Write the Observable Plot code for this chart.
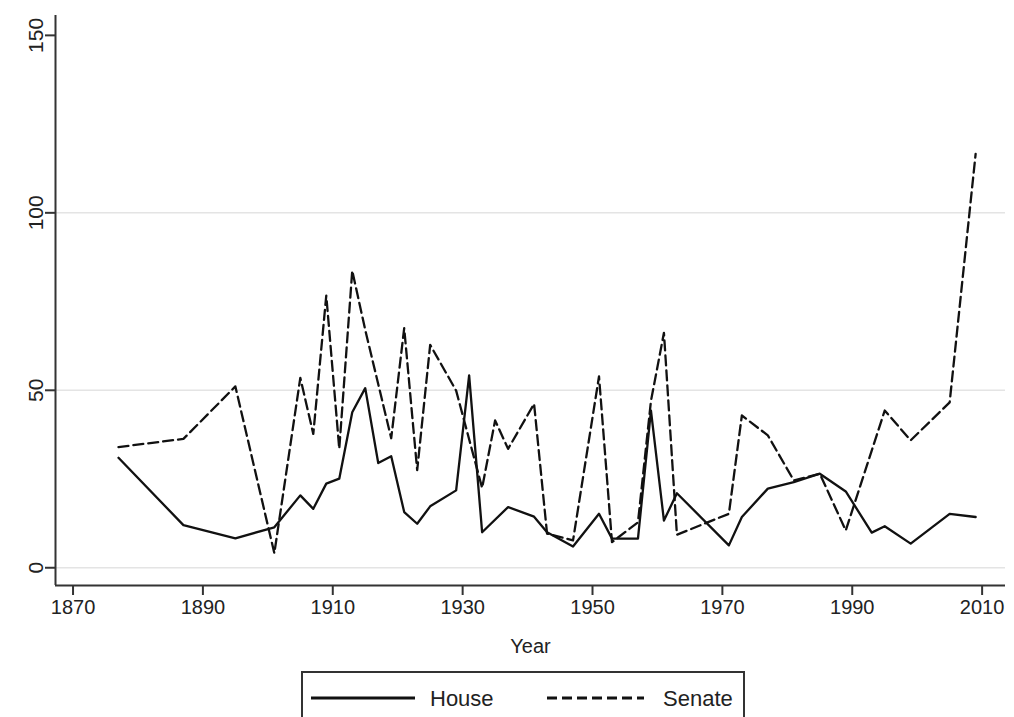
<!DOCTYPE html>
<html>
<head>
<meta charset="utf-8">
<script src="https://cdn.jsdelivr.net/npm/d3@7"></script>
<script src="https://cdn.jsdelivr.net/npm/@observablehq/plot@0.6"></script>
<style>
  html, body { margin: 0; padding: 0; background: #fff; }
  #wrap { position: relative; width: 1014px; height: 717px; overflow: hidden; font-family: "Liberation Sans", Arial, sans-serif; }
  #legend { position: absolute; left: 301px; top: 671px; width: 444px; height: 60px; border: 2px solid #333; box-sizing: border-box; background: #fff; }
</style>
</head>
<body>
<div id="wrap">
  <div id="chart"></div>
  <div id="legend"></div>
</div>
<script>
const houseYears  = [1877, 1887, 1895, 1901, 1905, 1907, 1909, 1911, 1913, 1915, 1917, 1919, 1921, 1923, 1925, 1929, 1931, 1933, 1937, 1941, 1943, 1947, 1951, 1953, 1957, 1959, 1961, 1963, 1971, 1973, 1977, 1981, 1985, 1989, 1993, 1995, 1999, 2005, 2009];
const houseValues = [31, 12, 8.3, 11.4, 20.4, 16.6, 23.7, 25.1, 43.8, 50.6, 29.5, 31.4, 15.7, 12.4, 17.3, 21.8, 54.2, 10, 17.1, 14.4, 10.0, 6.0, 15.2, 8.2, 8.2, 44.3, 13.3, 21, 6.3, 14.3, 22.3, 24.1, 26.5, 21.5, 9.9, 11.7, 6.8, 15.2, 14.3];
const senateYears  = [1877, 1887, 1895, 1901, 1905, 1907, 1909, 1911, 1913, 1915, 1919, 1921, 1923, 1925, 1929, 1933, 1935, 1937, 1941, 1943, 1947, 1951, 1953, 1957, 1959, 1961, 1963, 1971, 1973, 1977, 1981, 1985, 1989, 1995, 1999, 2005, 2009];
const senateValues = [34, 36.3, 51.1, 4.1, 53.5, 37.7, 76.7, 33.5, 83.7, 67, 36.5, 67.5, 27.5, 62.8, 49.9, 22.5, 41.5, 33.5, 46.2, 9.6, 7.7, 53.9, 7.2, 12.8, 47, 66.2, 9.3, 15.2, 42.9, 37.3, 24.6, 26.5, 10.5, 44.3, 35.9, 46.6, 116.6];
const seriesNames = ["House", "Senate"];
const xTicks = [1870, 1890, 1910, 1930, 1950, 1970, 1990, 2010];
const yTicks = [0, 50, 100, 150];
const gridValues = [0, 50, 100];
const xLabel = "Year";
const xDomain = [1867.3, 2013.6];
const yDomain = [-5, 155.6];

const house = houseYears.map((year, i) => ({year, value: houseValues[i]}));
const senate = senateYears.map((year, i) => ({year, value: senateValues[i]}));

const ink = "#222";
const axisInk = "#333";
const chart = Plot.plot({
  width: 1014,
  height: 665,
  marginLeft: 55,
  marginRight: 9,
  marginTop: 15,
  marginBottom: 80,
  style: {fontFamily: "'Liberation Sans', Arial, sans-serif", fontSize: "20px", color: ink, background: "#fff", overflow: "visible"},
  x: {domain: xDomain},
  y: {domain: yDomain},
  marks: [
    Plot.gridY(gridValues, {stroke: "#e4e4e4", strokeOpacity: 1, strokeWidth: 1.5}),
    Plot.line(senate, {x: "year", y: "value", stroke: "#111", strokeWidth: 2.3, strokeDasharray: "10,5"}),
    Plot.line(house, {x: "year", y: "value", stroke: "#111", strokeWidth: 2.3}),
    Plot.ruleY([yDomain[0]], {stroke: axisInk, strokeWidth: 2}),
    Plot.ruleX([xDomain[0]], {stroke: axisInk, strokeWidth: 2}),
    Plot.axisX(xTicks, {tickSize: 10, tickPadding: 4, tickFormat: d => String(d), stroke: axisInk, strokeWidth: 2, label: xLabel, labelAnchor: "center", labelOffset: 67, labelArrow: "none", fontSize: 20}),
    Plot.axisY(yTicks, {tickSize: 10, tickFormat: () => "", stroke: axisInk, strokeWidth: 2, label: null}),
    Plot.text(yTicks, {y: d => d, text: d => String(d), frameAnchor: "left", textAnchor: "middle", lineAnchor: "middle", dx: -19, rotate: -90, fontSize: 21, fill: ink})
  ]
});
document.getElementById("chart").appendChild(chart);

// legend
const lg = d3.select("#legend").append("svg").attr("width", 440).attr("height", 58);
const items = [
  {name: seriesNames[0], x1: 8, x2: 112, tx: 127, dash: null},
  {name: seriesNames[1], x1: 244, x2: 341, tx: 360, dash: "10,5"}
];
for (const it of items) {
  lg.append("line").attr("x1", it.x1).attr("x2", it.x2).attr("y1", 25).attr("y2", 25)
    .attr("stroke", "#111").attr("stroke-width", 3).attr("stroke-dasharray", it.dash);
  lg.append("text").attr("x", it.tx).attr("y", 25).attr("dy", "0.35em")
    .attr("font-size", 22).attr("fill", ink).attr("font-family", "'Liberation Sans', Arial, sans-serif").text(it.name);
}
</script>
</body>
</html>
